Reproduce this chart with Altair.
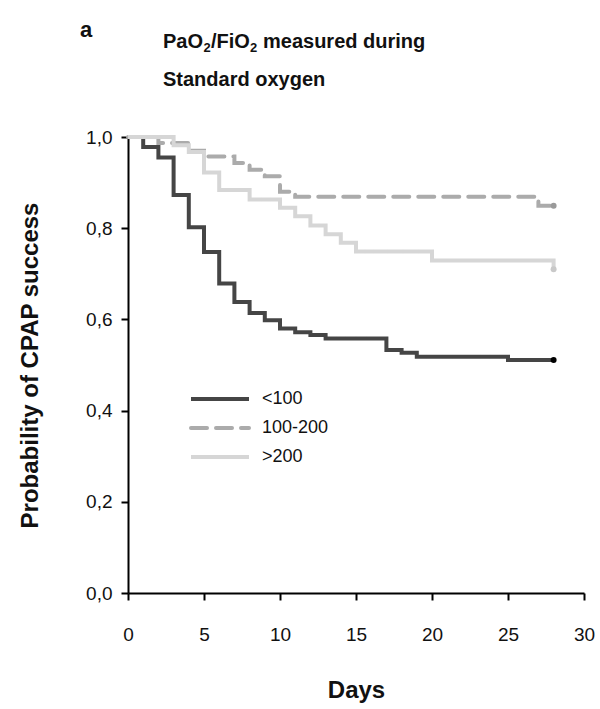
import altair as alt
import pandas as pd

# Kaplan-Meier estimates of CPAP success by PaO2/FiO2 group (standard oxygen)
groups = ["<100", "100-200", ">200"]

days_lt100 = [0, 1, 2, 3, 4, 5, 6, 7, 8, 9, 10, 11, 12, 13, 17, 18, 19, 25, 28]
surv_lt100 = [1.0, 0.978, 0.955, 0.873, 0.802, 0.748, 0.679, 0.638, 0.614, 0.598,
              0.580, 0.572, 0.566, 0.558, 0.533, 0.527, 0.518, 0.511, 0.511]

days_100_200 = [0, 2, 4, 5, 7, 8, 9, 10, 11, 27, 28]
surv_100_200 = [1.0, 0.987, 0.970, 0.957, 0.943, 0.928, 0.914, 0.880, 0.869, 0.849, 0.849]

days_gt200 = [0, 3, 4, 5, 6, 8, 10, 11, 12, 13, 14, 15, 20, 28]
surv_gt200 = [1.0, 0.982, 0.967, 0.922, 0.884, 0.863, 0.845, 0.826, 0.806, 0.787,
              0.768, 0.749, 0.729, 0.710]

x_ticks = [0, 5, 10, 15, 20, 25, 30]
y_ticks = [0.0, 0.2, 0.4, 0.6, 0.8, 1.0]

FONT = "Liberation Sans"
INK = "#111111"

line_color = {"<100": "#454545", "100-200": "#ababab", ">200": "#d6d6d6"}
dot_color = {"<100": "#000000", "100-200": "#9a9a9a", ">200": "#c9c9c9"}
dash = {"<100": [1, 0], "100-200": [16, 9], ">200": [1, 0]}
cap = {"<100": "butt", "100-200": "round", ">200": "butt"}

x_scale = alt.Scale(domain=[0, 30], nice=False, zero=True)
y_scale = alt.Scale(domain=[0, 1], nice=False)

x_axis = alt.Axis(
    values=x_ticks, title="Days", grid=False,
    domainColor="black", domainWidth=2, tickColor="black", tickWidth=2, tickSize=7,
    labelFont=FONT, labelFontSize=19, labelColor=INK, labelPadding=25,
    labelFlush=False,
    titleFont=FONT, titleFontSize=24, titleFontWeight="bold", titleColor=INK,
    titleY=97, titleBaseline="middle",
)
y_axis = alt.Axis(
    values=y_ticks, title="Probability of CPAP success", grid=False,
    labelExpr="replace(format(datum.value, '.1f'), '.', ',')",
    domainColor="black", domainWidth=2, tickColor="black", tickWidth=2, tickSize=7,
    labelFont=FONT, labelFontSize=19, labelColor=INK, labelPadding=9,
    titleFont=FONT, titleFontSize=24, titleFontWeight="bold", titleColor=INK,
    titleX=-98, titleY=228, titleAlign="center", titleBaseline="middle",
)

X = alt.X("day:Q", scale=x_scale, axis=x_axis)
Y = alt.Y("p:Q", scale=y_scale, axis=y_axis)


def curve(name, days, surv):
    df = pd.DataFrame({"day": days, "p": surv, "group": name})
    line = alt.Chart(df).mark_line(
        interpolate="step-after", strokeWidth=4, color=line_color[name],
        strokeDash=dash[name], strokeCap=cap[name],
    ).encode(x=X, y=Y)
    end = alt.Chart(df.tail(1)).mark_circle(
        size=36, opacity=1, color=dot_color[name]
    ).encode(x=X, y=Y)
    return [line, end]


def label(text, x, y, size=18, weight="normal", align="left"):
    return alt.Chart(pd.DataFrame({"k": [0]})).mark_text(
        text=text, font=FONT, fontSize=size, fontWeight=weight,
        align=align, baseline="middle", color=INK,
    ).encode(x=alt.value(x), y=alt.value(y))


layers = []
layers += curve("<100", days_lt100, surv_lt100)
layers += curve("100-200", days_100_200, surv_100_200)
layers += curve(">200", days_gt200, surv_gt200)

# legend inside the plot area
legend_rows = [262, 291, 320]
for name, ly in zip(groups, legend_rows):
    layers.append(
        alt.Chart(pd.DataFrame({"k": [0]})).mark_rule(
            strokeWidth=4, color=line_color[name],
            strokeDash=dash[name], strokeCap=cap[name],
        ).encode(x=alt.value(63), x2=alt.value(121), y=alt.value(ly))
    )
    layers.append(label(name, 134, ly, size=18))

# panel letter and two-line heading with subscripts
layers.append(label("a", -42, -107, size=22, weight="bold", align="center"))
hy1, hy2 = -95, -57
layers.append(label("PaO", 35, hy1, size=20, weight="bold"))
layers.append(label("2", 75.5, hy1 + 6, size=13, weight="bold"))
layers.append(label("/FiO", 83, hy1, size=20, weight="bold"))
layers.append(label("2", 122, hy1 + 6, size=13, weight="bold"))
layers.append(label("measured during", 135, hy1, size=20, weight="bold"))
layers.append(label("Standard oxygen", 35, hy2, size=20, weight="bold"))

chart = alt.layer(*layers).properties(
    width=456, height=456,
    padding={"left": 128, "top": 137, "right": 16, "bottom": 116},
    autosize=alt.AutoSizeParams(type="none"),
    background="white",
).configure_view(stroke=None)

chart.save("out.html", embed_options={"renderer": "svg", "actions": False})
